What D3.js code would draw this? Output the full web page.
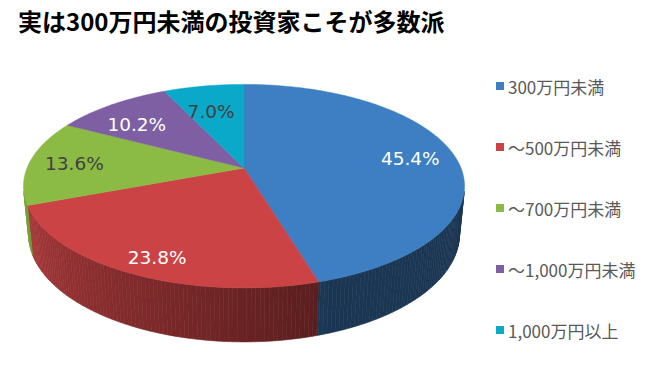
<!DOCTYPE html>
<html>
<head>
<meta charset="utf-8">
<script src="https://cdn.jsdelivr.net/npm/d3@7"></script>
<style>
  body { margin: 0; background: #fff; }
  svg { display: block; }
</style>
</head>
<body>
<svg id="chart"></svg>
<script>
const categories = ['300万円未満', '～500万円未満', '～700万円未満', '～1,000万円未満', '1,000万円以上'];
const shares = [45.4, 23.8, 13.6, 10.2, 7.0];

const width = 663;
const height = 383;

const topColors = ['#3e7ec2', '#cb4345', '#8cbb45', '#7e5fa4', '#0ba9c9'];
const labelColors = ['#ffffff', '#ffffff', '#404040', '#ffffff', '#404040'];

const svg = d3.select('#chart').attr('width', width).attr('height', height);

// Title
svg.append('text')
  .attr('x', 18)
  .attr('y', 20)
  .attr('dominant-baseline', 'central')
  .style('font-family', '"Noto Sans CJK JP", sans-serif')
  .style('font-weight', 'bold')
  .style('font-size', '24px')
  .style('fill', '#000')
  .text('実は300万円未満の投資家こそが多数派');

// simple perspective camera for the 3D pie (disk radius 1)
const cam = {
  cx: 244, cy: 168,
  dist: 5, focal: 1085,
  tilt: 27 * Math.PI / 180,
  thick: 0.25
};
const sinT = Math.sin(cam.tilt);
const cosT = Math.cos(cam.tilt);

// theta: clockwise from the far side, r: radius fraction, h: depth below top face
const project = (theta, r, h) => {
  const X = r * Math.sin(theta);
  const Z = -r * Math.cos(theta);
  const Y = -h;
  const d = cam.dist - (Y * sinT + Z * cosT);
  return [cam.cx + cam.focal * X / d, cam.cy - cam.focal * (Y * cosT - Z * sinT) / d];
};

const pie = d3.pie().sort(null).value(d => d).startAngle(0).endAngle(2 * Math.PI);
const arcs = pie(shares);

// side walls: only the part facing the viewer
const limit = Math.acos(-1 / (cam.dist * cosT));
const visFrom = limit;
const visTo = 2 * Math.PI - limit;
const step = Math.PI / 180;

const shade = theta => {
  const deg = theta * 180 / Math.PI;
  return 0.43 + 0.42 * Math.max(0, Math.min(1, (deg - 160) / 95));
};

const walls = svg.append('g');
arcs.forEach((a, i) => {
  const a0 = Math.max(a.startAngle, visFrom);
  const a1 = Math.min(a.endAngle, visTo);
  if (a1 <= a0) return;
  const base = d3.rgb(topColors[i]);
  for (let t = a0; t < a1; t += step) {
    const t2 = Math.min(t + step, a1);
    const pts = [project(t, 1, 0), project(t2, 1, 0), project(t2, 1, cam.thick), project(t, 1, cam.thick)];
    const f = shade((t + t2) / 2);
    const c = d3.rgb(base.r * f, base.g * f, base.b * f).toString();
    walls.append('path')
      .attr('d', d3.line().curve(d3.curveLinearClosed)(pts))
      .attr('fill', c)
      .attr('stroke', c)
      .attr('stroke-width', 0.6);
  }
});

// top faces
const tops = svg.append('g');
arcs.forEach((a, i) => {
  const pts = [project(0, 0, 0)];
  const n = Math.max(2, Math.ceil((a.endAngle - a.startAngle) / step));
  for (let k = 0; k <= n; k++) {
    const t = a.startAngle + (a.endAngle - a.startAngle) * k / n;
    pts.push(project(t, 1, 0));
  }
  tops.append('path')
    .attr('d', d3.line().curve(d3.curveLinearClosed)(pts))
    .attr('fill', topColors[i])
    .attr('stroke', topColors[i])
    .attr('stroke-width', 0.5);
});

// data labels
svg.append('g')
  .selectAll('text')
  .data(arcs)
  .join('text')
  .each(function (a, i) {
    const mid = (a.startAngle + a.endAngle) / 2;
    const p = project(mid, 0.79, 0);
    d3.select(this)
      .attr('x', p[0])
      .attr('y', p[1] + 11 * Math.abs(Math.cos(mid)))
      .style('fill', labelColors[i]);
  })
  .attr('text-anchor', 'middle')
  .attr('dominant-baseline', 'central')
  .style('font-family', '"DejaVu Sans", Verdana, sans-serif')
  .style('font-size', '18.5px')
  .text(a => a.data.toFixed(1) + '%');

// legend
const legend = svg.append('g')
  .selectAll('g')
  .data(categories)
  .join('g')
  .attr('transform', (d, i) => `translate(496, ${86 + i * 61})`);

legend.append('rect')
  .attr('x', 0)
  .attr('y', -4)
  .attr('width', 8)
  .attr('height', 8)
  .attr('fill', (d, i) => topColors[i]);

legend.append('text')
  .attr('x', 12)
  .attr('y', 0)
  .attr('dominant-baseline', 'central')
  .style('font-family', '"Noto Sans CJK JP", sans-serif')
  .style('font-size', '17px')
  .style('fill', '#595959')
  .text(d => d);
</script>
</body>
</html>
